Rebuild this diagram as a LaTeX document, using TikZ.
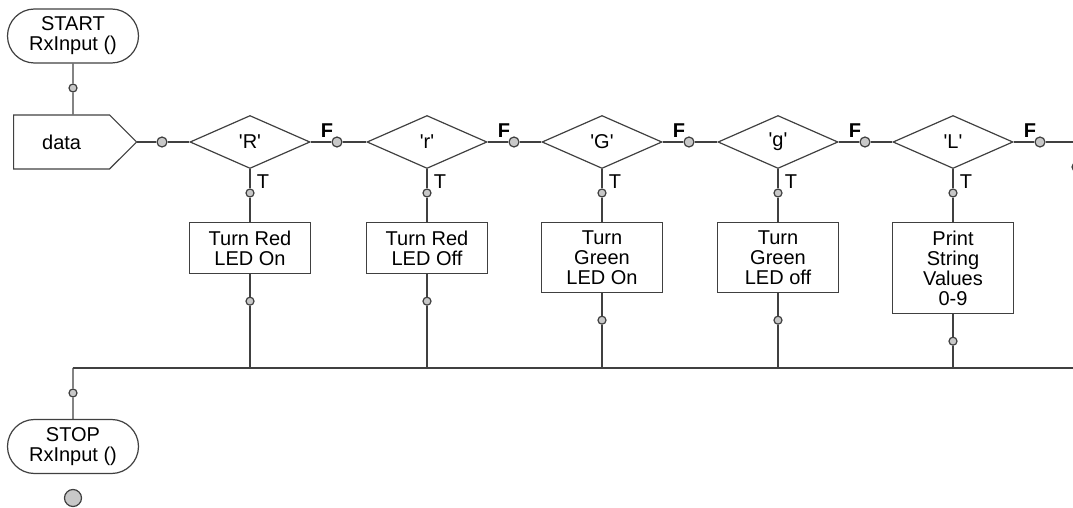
\documentclass[tikz,border=0pt]{standalone}
\usepackage{fontspec}
\setmainfont{Liberation Sans}
\usepackage{tikz}
\usetikzlibrary{shapes.geometric, shapes.misc, shapes.symbols, calc}
\definecolor{lineGray}{HTML}{404040}
\definecolor{dotGray}{HTML}{C8C8C8}
\newcommand\rowY{142}
\newcommand\actTop{222}
\newcommand\busY{368}
\newcommand\sq{\textquotesingle}
% sizes below are in pt, half a pixel of the drawing grid
\tikzset{
    every node/.style={font=\fontsize{10}{10}\selectfont},
    terminal/.style={rounded rectangle, draw=lineGray, minimum width=65.5pt, minimum height=27pt, inner sep=0pt, align=center},
    datain/.style={signal, signal to=east, signal pointer angle=90, draw=lineGray, minimum width=61.5pt, minimum height=27pt, inner sep=0pt},
    decision/.style={diamond, draw=lineGray, aspect=2.26, minimum width=60pt, minimum height=26.5pt, inner sep=0pt},
    action/.style={rectangle, draw=lineGray, minimum width=60.5pt, inner sep=0pt, align=center},
    joint/.style={circle, draw=lineGray, fill=dotGray, minimum size=5pt, inner sep=0pt},
    smalljoint/.style={circle, draw=lineGray, fill=dotGray, minimum size=4pt, inner sep=0pt},
    endjoint/.style={circle, draw=lineGray, fill=dotGray, minimum size=8.5pt, inner sep=0pt},
    flag/.style={inner sep=0pt},
    wire/.style={draw=lineGray}
}

\begin{document}
\begin{tikzpicture}[x=0.5pt, y=-0.5pt, line width=0.6pt]
    \useasboundingbox (0,0) rectangle (1073,508);

    % start and input
    \node[terminal] (start) at (73,36) {START\\RxInput ()};
    \node[smalljoint] (j0) at (73,88) {};
    \node[datain, anchor=west] (data) at (13,\rowY) {data};
    \node[joint] (jd) at (162,\rowY) {};
    \draw[wire] (start) -- (j0) -- (j0 |- data.north);
    \draw[wire] (data.east) -- (jd);

    % bus
    \coordinate (busL) at (73,\busY);
    \coordinate (busR) at (1073,\busY);
    \draw[wire] (busL) -- (busR);

    % one decision per received character
    \foreach \x/\ch/\h/\txt [count=\i] in {
        250/R/51/{Turn Red\\LED On},
        427/r/51/{Turn Red\\LED Off},
        602/G/70/{Turn\\Green\\LED On},
        778/g/70/{Turn\\Green\\LED off},
        953/L/91/{Print\\String\\Values\\0-9}}
    {
        \node[decision] (dec\i) at (\x,\rowY) {\sq\ch\sq};
        \node[joint] (fj\i) at (\x+87,\rowY) {};
        \node[flag, font=\fontsize{10}{10}\selectfont\bfseries] (flab\i) at (\x+77,131) {F};
        \node[smalljoint] (tj\i) at (\x,193) {};
        \node[flag] (tlab\i) at (\x+13,182) {T};
        \node[action, minimum height=0.5*\h, anchor=north] (act\i) at (\x,\actTop) {\txt};
        \node[smalljoint] (bj\i) at ($(act\i.south)+(0,27)$) {};
        \draw[wire] (dec\i.east) -- (fj\i);
        \draw[wire] (dec\i.south) -- (tj\i) -- (act\i) -- (bj\i) -- (bj\i |- busL);
    }
    \draw[wire] (jd) -- (dec1.west);
    \foreach \i [evaluate=\i as \j using int(\i+1)] in {1,...,4}
        \draw[wire] (fj\i) -- (dec\j.west);
    \draw[wire] (fj5) -- (1073,\rowY);
    \node[smalljoint] (edge) at (1076,167) {};

    % stop
    \node[smalljoint] (j9) at (73,393) {};
    \node[terminal] (stop) at (73,446.5) {STOP\\RxInput ()};
    \node[endjoint] (endc) at (73,498) {};
    \draw[wire] (busL) -- (j9) -- (stop);
\end{tikzpicture}
\end{document}
